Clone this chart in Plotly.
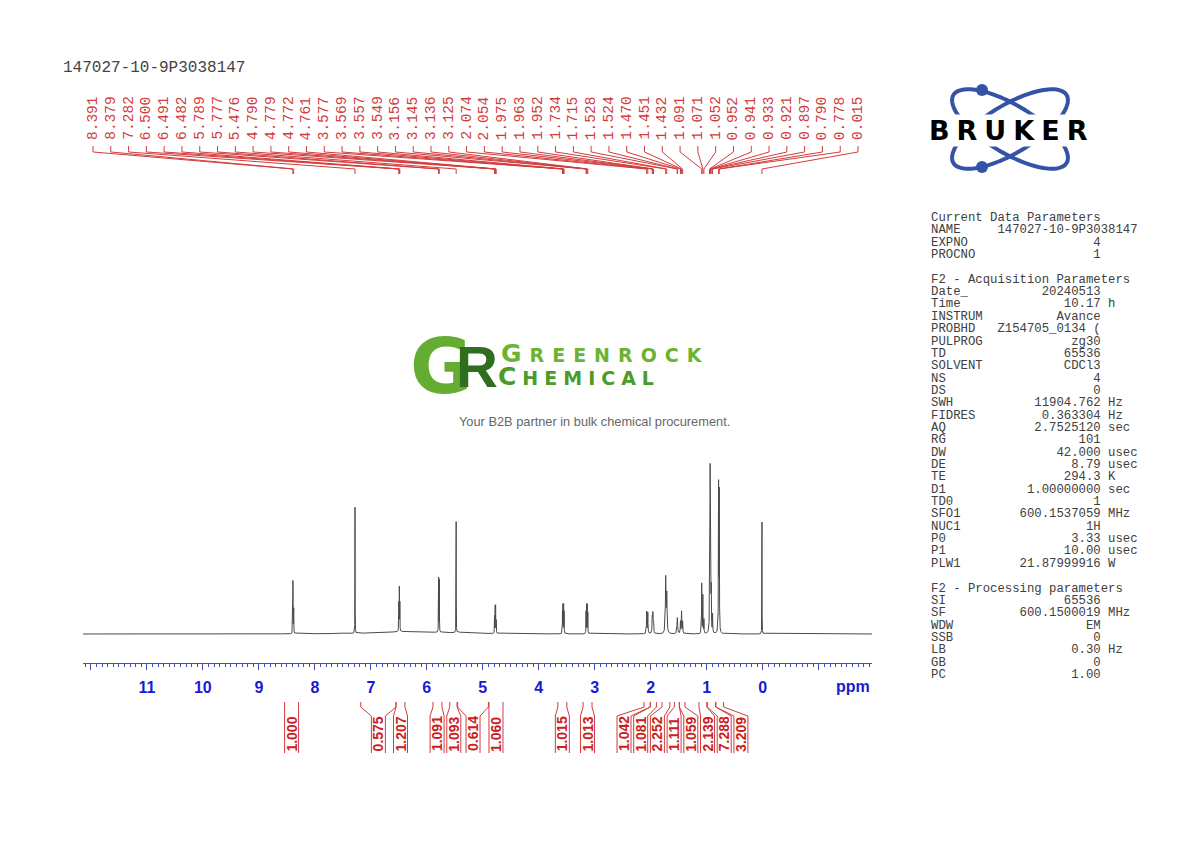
import numpy as np
import plotly.graph_objects as go

# peak list as printed above the spectrum (ppm) and peak heights
shifts = [8.391, 8.379, 7.282, 6.500, 6.491, 6.482, 5.789, 5.777, 5.476,
          4.790, 4.779, 4.772, 4.761, 3.577, 3.569, 3.557, 3.549,
          3.156, 3.145, 3.136, 3.125, 2.074, 2.054, 1.975, 1.963, 1.952,
          1.734, 1.715, 1.528, 1.524, 1.470, 1.451, 1.432,
          1.091, 1.071, 1.052, 0.952, 0.941, 0.933, 0.921, 0.897,
          0.790, 0.778, 0.015]
heights = [52, 50, 126, 28, 43, 30, 54, 52, 111,
           17, 26, 26, 16, 22, 28, 28, 22,
           22, 28, 28, 22, 22, 21, 16, 19, 15,
           55, 38, 9, 9, 12, 22, 12,
           50, 38, 14, 45, 148, 148, 45, 18,
           146, 138, 112]
halfwidths = [0.002, 0.002, 0.0015, 0.002, 0.002, 0.002, 0.002, 0.002, 0.0015,
              0.002, 0.002, 0.002, 0.002, 0.002, 0.002, 0.002, 0.002,
              0.002, 0.002, 0.002, 0.002, 0.004, 0.004, 0.004, 0.004, 0.004,
              0.006, 0.006, 0.006, 0.006, 0.004, 0.004, 0.004,
              0.003, 0.003, 0.003, 0.003, 0.003, 0.003, 0.003, 0.003,
              0.003, 0.003, 0.0015]

# broad baseline humps
broad_centres = [7.48, 6.30, 5.30]
broad_heights = [1.0, 2.5, 1.5]
broad_widths = [0.05, 0.60, 0.15]

# integrals
int_values = [1.000, 0.575, 1.207, 1.091, 1.093, 0.614, 1.060, 1.015, 1.013,
              1.042, 1.081, 2.252, 1.111, 1.059, 2.139, 7.288, 3.209]
int_from = [8.54, 7.18, 6.55, 5.89, 5.59, 5.45, 4.89, 3.66, 3.21,
            2.12, 2.01, 1.80, 1.58, 1.49, 1.14, 0.99, 0.84]
int_to = [8.29, 6.55, 6.39, 5.73, 5.46, 4.90, 4.64, 3.50, 3.05,
          2.01, 1.90, 1.66, 1.49, 1.39, 1.00, 0.84, 0.70]

ppm_ticks = list(range(12, -2, -1))
tick_text = ["" if t in (12, -1) else str(t) for t in ppm_ticks]

sample_name = "147027-10-9P3038147"
current_params = [("NAME", "147027-10-9P3038147", ""), ("EXPNO", "4", ""),
                  ("PROCNO", "1", "")]
acq_params = [("Date_", "20240513", ""), ("Time", "10.17", "h"),
              ("INSTRUM", "Avance", ""), ("PROBHD", "Z154705_0134 (", ""),
              ("PULPROG", "zg30", ""), ("TD", "65536", ""), ("SOLVENT", "CDCl3", ""),
              ("NS", "4", ""), ("DS", "0", ""), ("SWH", "11904.762", "Hz"),
              ("FIDRES", "0.363304", "Hz"), ("AQ", "2.7525120", "sec"),
              ("RG", "101", ""), ("DW", "42.000", "usec"), ("DE", "8.79", "usec"),
              ("TE", "294.3", "K"), ("D1", "1.00000000", "sec"), ("TD0", "1", ""),
              ("SFO1", "600.1537059", "MHz"), ("NUC1", "1H", ""),
              ("P0", "3.33", "usec"), ("P1", "10.00", "usec"),
              ("PLW1", "21.87999916", "W")]
proc_params = [("SI", "65536", ""), ("SF", "600.1500019", "MHz"), ("WDW", "EM", ""),
               ("SSB", "0", ""), ("LB", "0.30", "Hz"), ("GB", "0", ""), ("PC", "1.00", "")]

# ---- page geometry (the page body adds an 8px margin) ----
OFF = 8
W, H = 1190 - OFF, 842 - OFF
PX0, PX1, PY0, PY1 = 83, 872, 60, 663      # plot box in page pixels
X_LEFT, X_RIGHT = 12.14, -1.95
RED = "#d23c3c"
BLUE = "#3f4fc8"


def yp(py):
    return (PY1 - py) / (PY1 - PY0)


def xp(px):
    return (px - PX0) / (PX1 - PX0)


def px_ppm(px):
    return X_LEFT + (px - PX0) / (PX1 - PX0) * (X_RIGHT - X_LEFT)


def path(points):
    return "M" + " L".join(f"{x:.5f},{y:.5f}" for x, y in points)


def note(x, y, text, font, xref="paper", xanchor="center", **kw):
    return dict(x=x, xref=xref, y=y, yref="paper", text=text, showarrow=False,
                xanchor=xanchor, yanchor="middle", font=font, **kw)


def spread(centres, gap):
    order = list(np.argsort(centres))
    groups = [[i] for i in order]

    def place(g):
        m = np.mean([centres[i] for i in g])
        return [m + (k - (len(g) - 1) / 2) * gap for k in range(len(g))]

    merged = True
    while merged:
        merged = False
        for j in range(len(groups) - 1):
            if place(groups[j])[-1] + gap > place(groups[j + 1])[0] + 1e-9:
                groups[j] = groups[j] + groups[j + 1]
                del groups[j + 1]
                merged = True
                break
    pos = [0.0] * len(centres)
    for g in groups:
        for i, p in zip(g, place(g)):
            pos[i] = p
    return pos


# ---- spectrum ----
ppm = np.arange(X_RIGHT, X_LEFT, 0.0005)
intensity = np.zeros_like(ppm)
for c, h, w in zip(shifts + broad_centres, heights + broad_heights,
                   halfwidths + broad_widths):
    intensity += h / (1 + ((ppm - c) / w) ** 2)

fig = go.Figure()
fig.add_trace(go.Scatter(x=ppm, y=intensity, mode="lines",
                         line=dict(color="#4a4a4a", width=1), hoverinfo="skip"))

annotations = []
shapes = []

# ---- peak labels on top ----
label_ppm = [px_ppm(p) for p in np.linspace(93, 858, len(shifts))]
leaders = []
top_font = dict(family="Liberation Mono", size=14.5, color=RED)
for lp, s in zip(label_ppm, shifts):
    annotations.append(note(lp, yp(118), f"{s:.3f}", top_font, xref="x", textangle=-90))
    leaders.append(path([(lp, yp(146)), (lp, yp(152)), (s, yp(169)), (s, yp(174))]))
shapes.append(dict(type="path", xref="x", yref="paper", path=" ".join(leaders),
                   line=dict(color=RED, width=1)))

# ---- integrals ----
centres = [(a + b) / 2 for a, b in zip(int_from, int_to)]
gap = 16.7 * (X_LEFT - X_RIGHT) / (PX1 - PX0)
half = 7 * (X_LEFT - X_RIGHT) / (PX1 - PX0)
int_pos = spread(centres, gap)
brackets = []
int_font = dict(family="Liberation Sans", size=14, color="#cc2020", weight="bold")
for v, a, b, lp in zip(int_values, int_from, int_to, int_pos):
    brackets.append(path([(a, yp(702)), (a, yp(707)), (lp + half, yp(716)), (lp + half, yp(753))]))
    brackets.append(path([(b, yp(702)), (b, yp(707)), (lp - half, yp(716)), (lp - half, yp(753))]))
    annotations.append(note(lp, yp(734), f"{v:.3f}", int_font, xref="x", textangle=-90))
shapes.append(dict(type="path", xref="x", yref="paper", path=" ".join(brackets),
                   line=dict(color=RED, width=1)))

annotations.append(note(px_ppm(853), yp(686), "ppm",
                        dict(family="Liberation Sans", size=16, color="#1a1ad2", weight="bold"),
                        xref="x"))

# ---- header + parameter block ----
annotations.append(note(xp(61), yp(68), sample_name,
                        dict(family="Liberation Mono", size=16, color="#444444"),
                        xanchor="left"))


def fmt(key, val, unit):
    if len(val) > 15:
        line = key.ljust(9) + val
    else:
        line = key.ljust(8) + val.rjust(15)
    if unit:
        line += " " + unit
    return line


lines = ["Current Data Parameters"] + [fmt(*p) for p in current_params] + [""]
lines += ["F2 - Acquisition Parameters"] + [fmt(*p) for p in acq_params] + [""]
lines += ["F2 - Processing parameters"] + [fmt(*p) for p in proc_params]
par_font = dict(family="Liberation Mono", size=12.3, color="#404040")
for i, ln in enumerate(lines):
    if ln:
        annotations.append(note(xp(929), yp(218 + 12.35 * i), ln.replace(" ", "\u00a0"),
                                par_font, xanchor="left"))

# ---- Bruker logo ----
t = np.linspace(0, 2 * np.pi, 120)
for ang in (31, -31):
    th = np.radians(ang)
    ex = 1010 + 66 * np.cos(t) * np.cos(th) - 24 * np.sin(t) * np.sin(th)
    ey = 129 + 66 * np.cos(t) * np.sin(th) + 24 * np.sin(t) * np.cos(th)
    shapes.append(dict(type="path", xref="paper", yref="paper",
                       path=path([(xp(a), yp(b)) for a, b in zip(ex, ey)]) + " Z",
                       line=dict(color="#3553a6", width=4)))
for cy in (90, 167):
    shapes.append(dict(type="circle", xref="paper", yref="paper",
                       x0=xp(976), x1=xp(988), y0=yp(cy + 6), y1=yp(cy - 6),
                       fillcolor="#3553a6", line=dict(width=0)))
annotations.append(note(xp(1011), yp(130), "<span style='letter-spacing:7px'>BRUKER</span>",
                        dict(family="DejaVu Sans", size=27, color="black", weight="bold"),
                        bgcolor="white", borderpad=0))

# ---- Greenrock watermark ----
annotations.append(note(xp(441), yp(366), "G",
                        dict(family="DejaVu Sans", size=76, color="#64ad32", weight="bold")))
annotations.append(note(xp(477), yp(366), "R",
                        dict(family="Liberation Sans", size=58, color="#2f6e1f", weight="bold")))
annotations.append(note(xp(499), yp(353),
                        "<span style='letter-spacing:8px'><span style='font-size:25px'>G</span>REENROCK</span>",
                        dict(family="DejaVu Sans", size=19, color="#6bb330", weight="bold"),
                        xanchor="left"))
annotations.append(note(xp(496), yp(376),
                        "<span style='letter-spacing:6px'><span style='font-size:25px'>C</span>HEMICAL</span>",
                        dict(family="DejaVu Sans", size=19, color="#4b9a2a", weight="bold"),
                        xanchor="left"))
annotations.append(note(xp(594), yp(421), "Your B2B partner in bulk chemical procurement.",
                        dict(family="Liberation Sans", size=12.8, color="#666666")))

fig.update_layout(
    width=W, height=H,
    margin=dict(l=PX0 - OFF, r=W - (PX1 - OFF), t=PY0 - OFF, b=H - (PY1 - OFF)),
    paper_bgcolor="white", plot_bgcolor="white",
    showlegend=False,
    annotations=annotations,
    shapes=shapes,
    xaxis=dict(range=[X_LEFT, X_RIGHT], showgrid=False, zeroline=False,
               showline=True, linecolor=BLUE, linewidth=1,
               ticks="outside", ticklen=6, tickwidth=1, tickcolor=BLUE,
               tickmode="array", tickvals=ppm_ticks, ticktext=tick_text,
               ticklabelstandoff=4,
               tickfont=dict(family="Liberation Sans", size=16, color="#1a1ad2", weight="bold"),
               minor=dict(tickmode="linear", tick0=0, dtick=0.1, ticks="outside",
                          ticklen=3, tickcolor=BLUE, showgrid=False)),
    yaxis=dict(visible=False, range=[-29, 574]),
)

fig.write_html("out.html")
